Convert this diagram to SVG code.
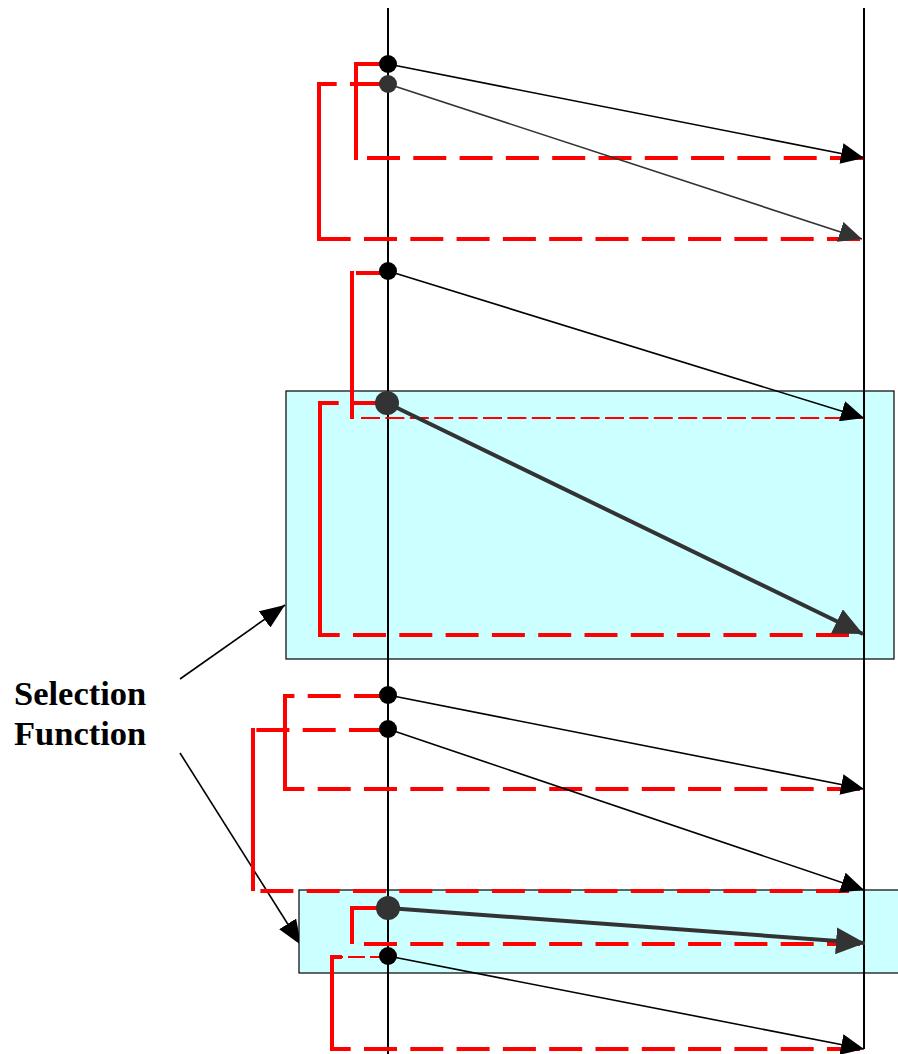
<svg xmlns="http://www.w3.org/2000/svg" width="898" height="1054" viewBox="0 0 898 1054">
  <style>
    .sel { fill: #CCFFFF; stroke: #000; stroke-width: 1.2; }
    .axis { stroke: #000; stroke-width: 2; fill: none; }
    .msg { stroke: #000; stroke-width: 1.6; fill: none; marker-end: url(#ah); }
    .msg-grey { stroke: #333; stroke-width: 1.6; fill: none; marker-end: url(#ah-grey); }
    .msg-bold { stroke: #333; stroke-width: 4; fill: none; marker-end: url(#ah-big); }
    .ptr { stroke: #000; stroke-width: 1.6; fill: none; marker-end: url(#ah-ptr); }
    .red-v { stroke: #FF0000; stroke-width: 4; fill: none; }
    .red-h { stroke: #FF0000; stroke-width: 4; fill: none; stroke-dasharray: 33 13.3; }
    .red-thin { stroke: #FF0000; stroke-width: 2; fill: none; }
    .dot { fill: #000; }
    .dot-grey { fill: #333; }
    .label { font-family: "Liberation Serif", "Times New Roman", serif; font-weight: bold; font-size: 34.5px; fill: #000; }
  </style>
  <defs>
    <marker id="ah" markerUnits="userSpaceOnUse" viewBox="0 0 23 21" markerWidth="23" markerHeight="21" refX="23" refY="10.5" orient="auto">
      <path d="M0,0 L23,10.5 L0,21 z" fill="#000"/>
    </marker>
    <marker id="ah-grey" markerUnits="userSpaceOnUse" viewBox="0 0 23 21" markerWidth="23" markerHeight="21" refX="23" refY="10.5" orient="auto">
      <path d="M0,0 L23,10.5 L0,21 z" fill="#333"/>
    </marker>
    <marker id="ah-big" markerUnits="userSpaceOnUse" viewBox="0 0 29 27" markerWidth="29" markerHeight="27" refX="29" refY="13.5" orient="auto">
      <path d="M0,0 L29,13.5 L0,27 z" fill="#333"/>
    </marker>
    <marker id="ah-ptr" markerUnits="userSpaceOnUse" viewBox="0 0 25 20" markerWidth="25" markerHeight="20" refX="25" refY="10" orient="auto">
      <path d="M0,0 L25,10 L0,20 z" fill="#000"/>
    </marker>
  </defs>

  <!-- caption with pointers to the highlighted regions -->
  <g id="label">
    <text class="label" x="14" y="705">Selection</text>
    <text class="label" x="14" y="745">Function</text>
  </g>
  <g id="pointers">
    <line class="ptr" x1="180" y1="679" x2="285" y2="605"/>
    <line class="ptr" x1="180" y1="753" x2="301" y2="945"/>
  </g>

  <!-- highlighted selection regions -->
  <g id="selection-1">
    <rect class="sel" x="286" y="391" width="608" height="268"/>
  </g>
  <g id="selection-2">
    <rect class="sel" x="299" y="890" width="602" height="83"/>
  </g>

  <!-- time axes -->
  <g id="axes">
    <line class="axis" x1="388" y1="8" x2="388" y2="1054"/>
    <line class="axis" x1="864" y1="8" x2="864" y2="1049"/>
  </g>

  <!-- red dashed timeout brackets -->
  <g id="brackets">
    <!-- 1 -->
    <line class="red-h" x1="389" y1="64" x2="356" y2="64"/>
    <line class="red-v" x1="356" y1="62" x2="356" y2="160"/>
    <line class="red-h" x1="863" y1="158" x2="356" y2="158"/>
    <!-- 2 -->
    <line class="red-h" x1="383" y1="84" x2="319" y2="84"/>
    <line class="red-v" x1="319" y1="82" x2="319" y2="241"/>
    <line class="red-h" x1="860" y1="239" x2="319" y2="239"/>
    <!-- 3 -->
    <line class="red-h" x1="389" y1="273" x2="352" y2="273"/>
    <line class="red-v" x1="352" y1="271" x2="352" y2="419"/>
    <line class="red-thin" x1="361" y1="418" x2="864" y2="418" stroke-dasharray="19 5.4"/>
    <!-- 4 -->
    <line class="red-h" x1="385" y1="403" x2="320" y2="403"/>
    <line class="red-v" x1="320" y1="401" x2="320" y2="637"/>
    <line class="red-h" x1="849" y1="635" x2="320" y2="635"/>
    <!-- 5 -->
    <line class="red-h" x1="387" y1="696" x2="285" y2="696"/>
    <line class="red-v" x1="285" y1="694" x2="285" y2="791"/>
    <line class="red-h" x1="860" y1="789" x2="285" y2="789"/>
    <!-- 6 -->
    <line class="red-h" x1="382" y1="730" x2="253" y2="730"/>
    <line class="red-v" x1="253" y1="728" x2="253" y2="891"/>
    <line class="red-h" x1="849" y1="891" x2="253" y2="891"/>
    <!-- 7 -->
    <line class="red-h" x1="385" y1="908" x2="352" y2="908"/>
    <line class="red-v" x1="352" y1="906" x2="352" y2="944"/>
    <line class="red-h" x1="860" y1="944" x2="352" y2="944"/>
    <!-- 8 -->
    <line class="red-thin" x1="387" y1="957" x2="342" y2="957" stroke-dasharray="17 5"/>
    <line class="red-v" x1="330" y1="957" x2="342" y2="957"/>
    <line class="red-v" x1="332" y1="955" x2="332" y2="1051"/>
    <line class="red-h" x1="860" y1="1049" x2="332" y2="1049"/>
  </g>

  <!-- messages -->
  <g id="connectors">
    <line class="msg" x1="388" y1="64" x2="864" y2="158"/>
    <line class="msg-grey" x1="388" y1="84" x2="862" y2="239"/>
    <line class="msg" x1="388" y1="271" x2="864" y2="418"/>
    <line class="msg-bold" x1="387" y1="403" x2="863" y2="634"/>
    <line class="msg" x1="388" y1="695" x2="864" y2="789"/>
    <line class="msg" x1="388" y1="729" x2="864" y2="890"/>
    <line class="msg-bold" x1="388" y1="908" x2="865" y2="943"/>
    <line class="msg" x1="388" y1="956" x2="864" y2="1049"/>
  </g>

  <!-- send events -->
  <g id="event-1"><circle class="dot" cx="388" cy="64" r="9"/></g>
  <g id="event-2"><circle class="dot-grey" cx="388" cy="84" r="9"/></g>
  <g id="event-3"><circle class="dot" cx="388" cy="271" r="9"/></g>
  <g id="event-4"><circle class="dot-grey" cx="387" cy="403" r="12"/></g>
  <g id="event-5"><circle class="dot" cx="388" cy="695" r="9"/></g>
  <g id="event-6"><circle class="dot" cx="388" cy="729" r="9"/></g>
  <g id="event-7"><circle class="dot-grey" cx="388" cy="908" r="12"/></g>
  <g id="event-8"><circle class="dot" cx="388" cy="956" r="9"/></g>
</svg>
